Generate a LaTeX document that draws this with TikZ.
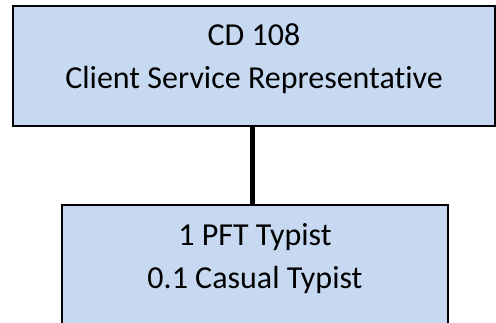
\documentclass[tikz,border=0pt]{standalone}
\usepackage{fontspec}
\setmainfont{Carlito}[Ligatures=NoCommon]
\usepackage{xcolor}
\usetikzlibrary{positioning}
\definecolor{bleuposte}{RGB}{198,217,241}
\tikzstyle{poste} = [rectangle, draw=black, line width=2pt, fill=bleuposte, minimum height=120pt, inner sep=0pt, text depth=19pt, align=center, font=\fontsize{32}{43}\selectfont]

\begin{document}
\begin{tikzpicture}[x=1pt, y=-1pt]
    \clip (0,0) rectangle (496,322);
    \useasboundingbox (0,0) rectangle (496,322);

    %% poste CD 108
    \node (cd) [poste, minimum width=482pt] at (254,66) {CD 108\\Client Service Representative};

    %% typistes
    \node (typist) [poste, minimum width=386pt] at (255,265) {1 PFT Typist\\0.1 Casual Typist};

    %% lien
    \draw[-, line width=5pt] ([xshift=-2pt]cd.south) -- ([xshift=-3pt]typist.north);
\end{tikzpicture}
\end{document}
